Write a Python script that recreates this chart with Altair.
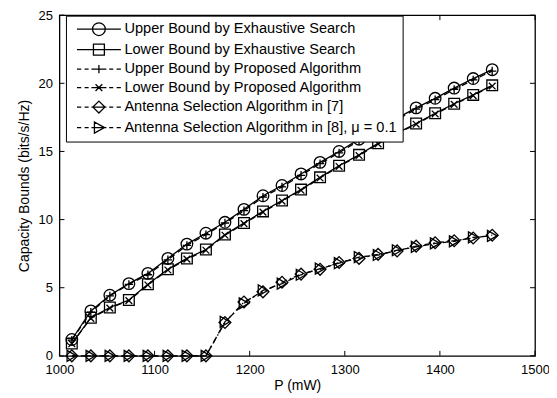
import altair as alt
import pandas as pd

# ---------------- data ----------------
P_mW = [1013, 1033, 1053, 1073, 1093, 1114, 1134, 1154, 1174, 1194, 1214, 1234,
        1254, 1274, 1294, 1315, 1335, 1355, 1375, 1395, 1415, 1435, 1455]

upper_exhaustive = [1.2, 3.3, 4.45, 5.3, 6.05, 7.15, 8.2, 9.0, 9.8, 10.75, 11.75, 12.5,
                    13.35, 14.2, 15.0, 15.9, 16.7, 17.45, 18.2, 18.9, 19.65, 20.35, 21.0]
lower_exhaustive = [0.9, 2.8, 3.55, 4.1, 5.25, 6.35, 7.15, 7.8, 8.9, 9.75, 10.6, 11.4,
                    12.2, 13.1, 13.95, 14.75, 15.6, 16.35, 17.05, 17.8, 18.5, 19.15, 19.85]
upper_proposed = [1.15, 3.2, 4.4, 5.25, 5.95, 7.05, 8.1, 8.9, 9.75, 10.65, 11.65, 12.4,
                  13.25, 14.1, 14.9, 15.8, 16.6, 17.35, 18.1, 18.8, 19.55, 20.25, 20.9]
lower_proposed = [0.9, 2.75, 3.5, 4.05, 5.2, 6.3, 7.1, 7.75, 8.85, 9.7, 10.55, 11.35,
                  12.15, 13.05, 13.9, 14.7, 15.55, 16.3, 17.0, 17.75, 18.45, 19.1, 19.8]
antenna_sel_7 = [0, 0, 0, 0, 0, 0, 0, 0, 2.45, 3.95, 4.7, 5.4, 6.0, 6.35, 6.85,
                 7.15, 7.45, 7.7, 8.05, 8.3, 8.45, 8.65, 8.85]
antenna_sel_8 = [0, 0, 0, 0, 0, 0, 0, 0, 2.5, 3.85, 4.8, 5.3, 5.95, 6.4, 6.8,
                 7.25, 7.4, 7.75, 8.0, 8.25, 8.4, 8.7, 8.8]

series_names = [
    "Upper Bound by Exhaustive Search",
    "Lower Bound by Exhaustive Search",
    "Upper Bound by Proposed Algorithm",
    "Lower Bound by Proposed Algorithm",
    "Antenna Selection Algorithm in [7]",
    "Antenna Selection Algorithm in [8], \u03bc = 0.1",
]
series_values = [upper_exhaustive, lower_exhaustive, upper_proposed,
                 lower_proposed, antenna_sel_7, antenna_sel_8]

x_ticks = [1000, 1100, 1200, 1300, 1400, 1500]
y_ticks = [0, 5, 10, 15, 20, 25]

rows = []
for name, vals in zip(series_names, series_values):
    for p, v in zip(P_mW, vals):
        rows.append({"P": p, "C": v, "series": name})
df = pd.DataFrame(rows)

# ---------------- styling ----------------
W, H = 476, 341
FONT = "Liberation Sans"
LW = 1.3

PLUS = "M-1,0L1,0M0,-1L0,1"
XMARK = "M-1,-1L1,1M-1,1L1,-1"
styles = [
    dict(dash=None, shape="circle", size=135),
    dict(dash=None, shape="square", size=115),
    dict(dash=[6, 4], shape=PLUS, size=70),
    dict(dash=[6, 4], shape=XMARK, size=45),
    dict(dash=[6, 3, 1.5, 3], shape="diamond", size=140),
    dict(dash=[6, 4], shape="triangle-right", size=120),
]

SOLID = "M-2.93,0L2.93,0"
DASHED = "M-2.93,0L-2.36,0M-1.91,0L-1.37,0M-1,0L1,0M1.37,0L1.91,0M2.36,0L2.93,0"
legend_paths = [
    SOLID + "M0.85,0A0.85,0.85,0,1,1,-0.85,0A0.85,0.85,0,1,1,0.85,0Z",
    SOLID + "M-0.73,-0.73L0.73,-0.73L0.73,0.73L-0.73,0.73Z",
    DASHED + "M0,-0.55L0,0.55",
    DASHED + "M-0.45,-0.45L0.45,0.45M-0.45,0.45L0.45,-0.45",
    DASHED + "M0,-0.8L0.8,0L0,0.8L-0.8,0Z",
    DASHED + "M-0.6,-0.75L0.75,0L-0.6,0.75Z",
]

xs = alt.Scale(domain=[1000, 1500], nice=False, zero=False)
ys = alt.Scale(domain=[0, 25], nice=False)

axis_common = dict(grid=False, ticks=False, tickSize=0, domain=False, labelFlush=False,
                   labelFont=FONT, labelFontSize=13, labelColor="black",
                   titleFont=FONT, titleFontSize=14, titleColor="black",
                   titleFontWeight="normal")
X = alt.X("P:Q", scale=xs,
          axis=alt.Axis(values=x_ticks, format="d", title="P (mW)", labelPadding=8,
                        titlePadding=2, **axis_common))
Y = alt.Y("C:Q", scale=ys,
          axis=alt.Axis(values=y_ticks, format="d", title="Capacity Bounds (bits/s/Hz)",
                        labelPadding=7, titlePadding=7, **axis_common))

base = alt.Chart(df)
layers = []
for name, st in zip(series_names, styles):
    sub = base.transform_filter(alt.datum.series == name)
    line_kw = dict(color="black", strokeWidth=LW)
    if st["dash"]:
        line_kw["strokeDash"] = st["dash"]
    layers.append(sub.mark_line(**line_kw).encode(x=X, y=Y))
    layers.append(sub.mark_point(shape=st["shape"], size=st["size"], filled=False,
                                 color="black", strokeWidth=LW, opacity=1)
                  .encode(x=X, y=Y))

# legend (built from the shape scale; no marks drawn)
legend_layer = base.transform_filter("false").mark_point(
    filled=False, color="black", strokeWidth=LW, opacity=1
).encode(
    x=X, y=Y,
    shape=alt.Shape("series:N", sort=None,
                    scale=alt.Scale(domain=series_names, range=legend_paths),
                    legend=alt.Legend(title=None, orient="none", legendX=6.5, legendY=0.5,
                                      strokeColor="black", fillColor="white", padding=5,
                                      symbolSize=225, symbolStrokeWidth=LW,
                                      symbolStrokeColor="black", symbolFillColor="transparent",
                                      symbolOffset=19.5, labelOffset=17, rowPadding=2.5,
                                      labelFont=FONT, labelFontSize=14.6, labelColor="black",
                                      labelLimit=500)),
)
layers.append(legend_layer)

# inward ticks on all four sides
xt = pd.DataFrame({"P": x_ticks})
yt = pd.DataFrame({"C": y_ticks})
tick_kw = dict(color="black", strokeWidth=1)
layers.append(alt.Chart(xt).mark_rule(**tick_kw).encode(x=X, y=alt.value(H), y2=alt.value(H - 5)))
layers.append(alt.Chart(xt).mark_rule(**tick_kw).encode(x=X, y=alt.value(0), y2=alt.value(5)))
layers.append(alt.Chart(yt).mark_rule(**tick_kw).encode(y=Y, x=alt.value(0), x2=alt.value(5)))
layers.append(alt.Chart(yt).mark_rule(**tick_kw).encode(y=Y, x=alt.value(W), x2=alt.value(W - 5)))

chart = alt.layer(*layers).properties(
    width=W, height=H,
    autosize=alt.AutoSizeParams(type="none"),
    padding={"left": 51.5, "top": 7, "right": 14, "bottom": 38},
    background="white",
).configure_view(stroke="black", strokeWidth=1.3)

chart.save("out.html", embed_options={"renderer": "svg", "actions": False})
